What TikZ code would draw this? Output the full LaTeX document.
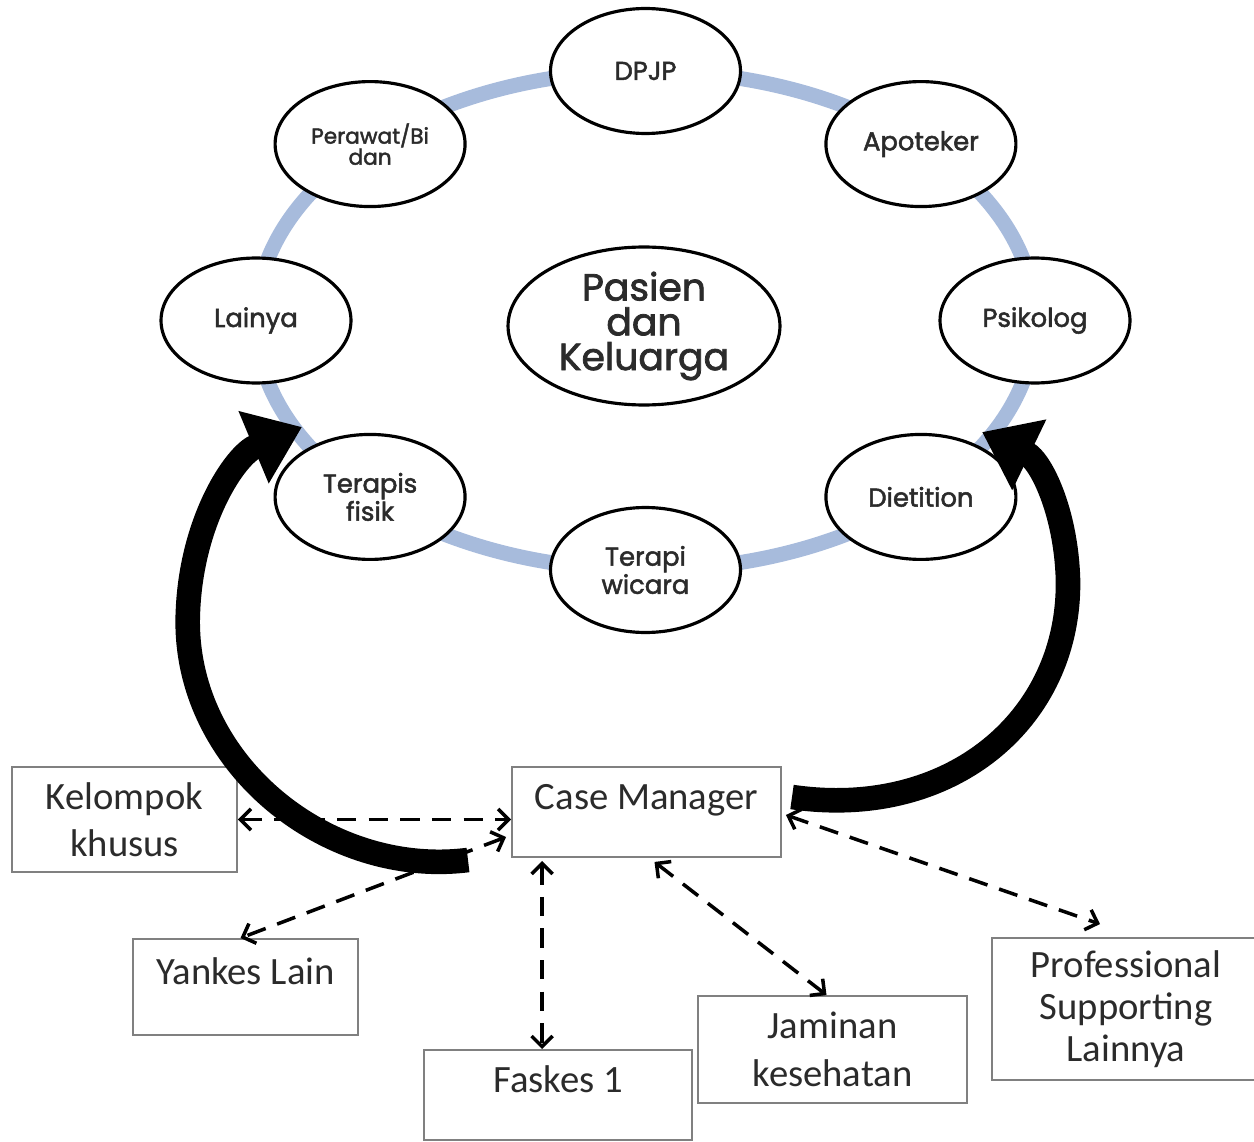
\documentclass[tikz,border=0pt]{standalone}
\usepackage{fontspec}
\newfontfamily\gothic{Poppins}[FakeBold=2]
\newfontfamily\calib{Carlito}
\usetikzlibrary{arrows.meta,calc,shapes.geometric}
\definecolor{ringblue}{HTML}{A7BBDC}
\definecolor{inkgray}{HTML}{2B2B2B}
\definecolor{boxgray}{HTML}{808080}
\tikzset{
  staff/.style={ellipse, draw=black, line width=1.8pt, fill=white,
    minimum width=3.8cm, minimum height=2.5cm, inner sep=0pt, align=center,
    text=inkgray, font=\gothic\fontsize{14.7}{16}\selectfont},
  unit/.style={rectangle, draw=boxgray, line width=1.1pt, fill=white,
    inner sep=0pt, align=center, text=inkgray,
    font=\calib\fontsize{22}{27}\selectfont},
  toptext/.style={text height=0.5cm, text depth=0.6cm},
  link/.style={line width=2pt, dash pattern=on 11pt off 7pt,
    {Straight Barb[length=6pt,width=12pt]}-{Straight Barb[length=6pt,width=12pt]}},
  band/.style={black, line width=14pt, -{Triangle[length=1.05cm,width=1.5cm]}}
}
\begin{document}
\begin{tikzpicture}[x=0.02cm, y=-0.02cm]
  \useasboundingbox (0,0) rectangle (1254,1142);

  % team ring
  \draw[ringblue, line width=8.5pt] (645.5,320.5) ellipse [x radius=7.79cm, y radius=4.99cm];
  \foreach \a/\n in {90/dpjp,45/apo,0/psi,-45/diet,-90/tw,-135/tf,180/lain,135/per}
    \coordinate (p-\n) at ({645.5+389.5*cos(\a)},{320.5-249.5*sin(\a)});

  \node[staff] (dpjp) at (p-dpjp) {DPJP};
  \node[staff] (apo) at (p-apo) {Apoteker};
  \node[staff] (psi) at (p-psi) {Psikolog};
  \node[staff] (diet) at (p-diet) {Dietition};
  \node[staff] (tw) at (p-tw) {Terapi\\wicara};
  \node[staff] (tf) at (p-tf) {Terapis\\fisik};
  \node[staff] (lain) at (p-lain) {Lainya};
  \node[staff, font=\gothic\fontsize{12.3}{12}\selectfont] (per) at (p-per) {Perawat/Bi\\dan};
  \node[staff, minimum width=5.44cm, minimum height=3.16cm,
    font=\gothic\fontsize{21.5}{19.8}\selectfont] (pk) at (644,326) {Pasien\\dan\\Keluarga};

  % boxes
  \node[unit, minimum width=4.5cm, minimum height=2.1cm] (kel) at (124.5,819.5) {Kelompok\\khusus};
  \node[unit, toptext, minimum width=5.38cm, minimum height=1.8cm] (cm) at (646.5,812) {Case Manager};
  \node[unit, toptext, minimum width=4.5cm, minimum height=1.92cm] (yl) at (245.5,987) {Yankes Lain};
  \node[unit, toptext, minimum width=5.36cm, minimum height=1.8cm] (fk) at (558,1095) {Faskes 1};
  \node[unit, minimum width=5.38cm, minimum height=2.14cm] (jk) at (832.5,1049.5) {Jaminan\\kesehatan};
  \node[unit, minimum width=5.36cm, minimum height=2.84cm,
    font=\calib\fontsize{22}{24}\selectfont] (ps) at (1126,1009) {Professional\\Supporting\\Lainnya};

  % dashed links
  \draw[link] (kel.east) -- (kel.east -| cm.west);
  \draw[link] ($(cm.west)+(-5,25)$) -- ($(yl.north)+(-5,0)$);
  \coordinate (cmfk) at ($(cm.south west)+(31,3)$);
  \draw[link] (cmfk) -- (cmfk |- fk.north);
  \draw[link] ($(cm.south)+(8,4)$) -- ($(jk.north)+(-6,0)$);
  \draw[link] ($(cm.east)+(4,3)$) -- ($(ps.north)+(-26,-13)$);

  % big arrows
  \coordinate (lt) at (468,860);
  \coordinate (lh) at (302,427);
  \coordinate (rt) at (792,797);
  \coordinate (rh) at (982,432);
  \draw[band] (lt) .. controls (325,878) and (180,760) .. (188,610)
    .. controls (192,520) and (235,455) .. (lh);
  \draw[band] (rt) .. controls (950,820) and (1070,720) .. (1068,580)
    .. controls (1066,510) and (1040,460) .. (rh);
\end{tikzpicture}
\end{document}
